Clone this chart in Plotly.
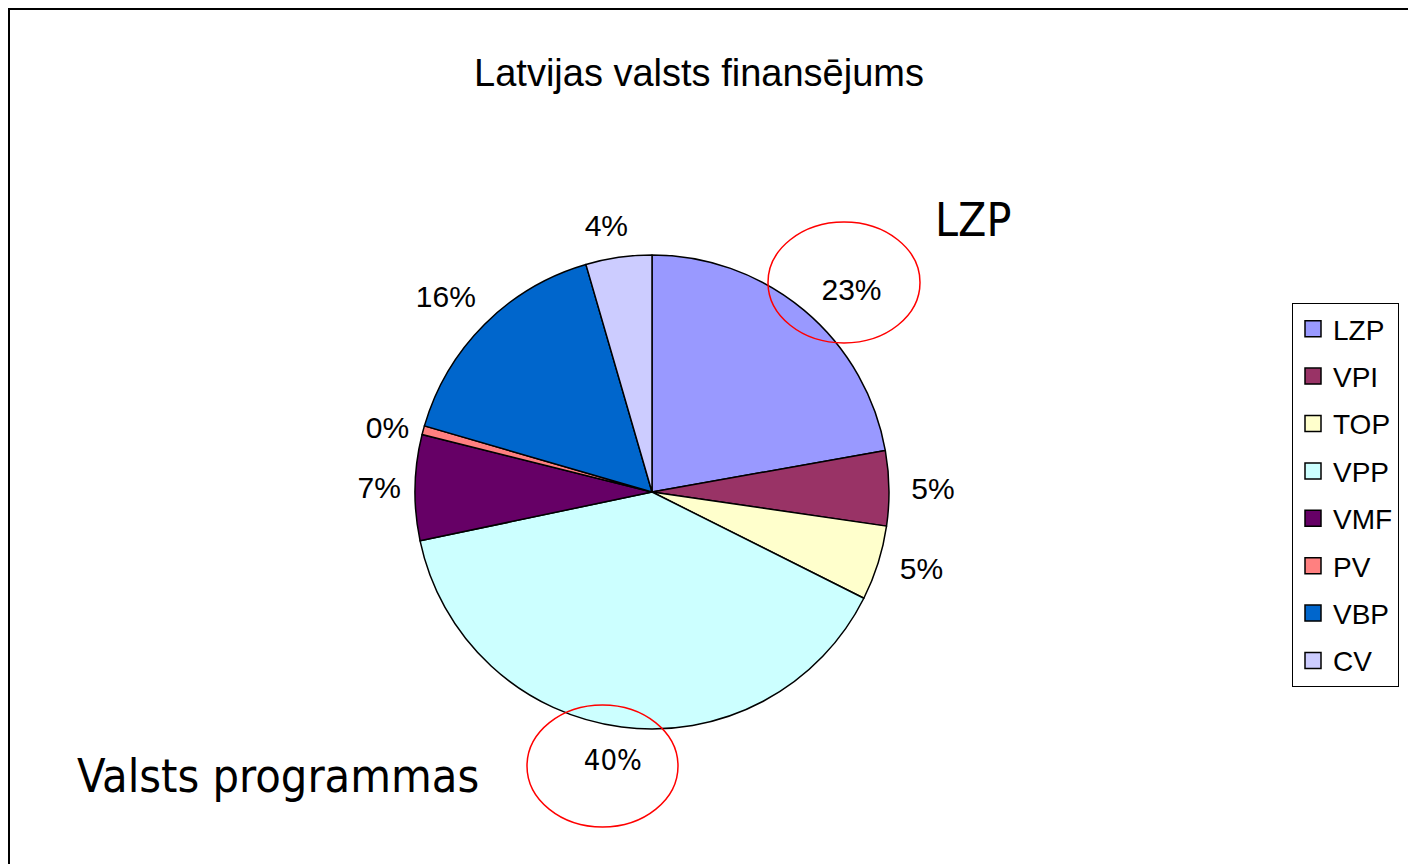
import plotly.graph_objects as go

categories = ["LZP", "VPI", "TOP", "VPP", "VMF", "PV", "VBP", "CV"]
values = [22.2, 5.1, 5.1, 39.3, 7.2, 0.6, 16.0, 4.5]
pct_labels = ["23%", "5%", "5%", "40%", "7%", "0%", "16%", "4%"]
colors = ["#9999FF", "#993366", "#FFFFCC", "#CCFFFF", "#660066", "#FF8080", "#0066CC", "#CCCCFF"]
title_text = "Latvijas valsts finansējums"
note_top = "LZP"
note_bottom = "Valsts programmas"

W, H = 1416, 864

label_fonts = ["Liberation Sans, Arial, sans-serif"] * len(categories)
label_fonts[categories.index("VPP")] = "DejaVu Sans Condensed, Tahoma, sans-serif"
label_sizes = [30] * len(categories)
label_sizes[categories.index("VPP")] = 29


def px_x(x):
    return x / W


def px_y(y):
    return 1 - y / H


cx, cy, r = 644, 484, 237      # pie centre / radius (px)

fig = go.Figure()


def add_label_pie(show, rotation, r_lab):
    """Transparent copy of the pie that only carries the outside percentage labels."""
    txt = [t if c in show else "" for c, t in zip(categories, pct_labels)]
    fig.add_trace(go.Pie(
        labels=categories, values=values, sort=False, direction="clockwise", rotation=rotation,
        marker=dict(colors=["rgba(0,0,0,0)"] * len(categories), line=dict(width=0)),
        text=txt, texttemplate="%{text}", textposition="outside",
        textfont=dict(family=label_fonts, size=label_sizes, color="black"),
        domain=dict(x=[px_x(cx - r_lab), px_x(cx + r_lab)], y=[px_y(cy + r_lab), px_y(cy - r_lab)]),
        showlegend=False, hoverinfo="skip",
    ))


add_label_pie(["LZP", "VPI", "TOP"], 0, 251)
add_label_pie(["VMF", "PV"], 0, 243)
add_label_pie(["VBP"], 3, 251)
add_label_pie(["VPP"], -7, 251)
add_label_pie(["CV"], 4.5, 251)

fig.add_trace(go.Pie(
    labels=categories, values=values, sort=False, direction="clockwise", rotation=0,
    marker=dict(colors=colors, line=dict(color="black", width=1.5)),
    textinfo="none",
    domain=dict(x=[px_x(cx - r), px_x(cx + r)], y=[px_y(cy + r), px_y(cy - r)]),
    showlegend=False, hoverinfo="label+percent",
))

# Legend entries built from the same categories/colors
for cat, col in zip(categories, colors):
    fig.add_trace(go.Scatter(
        x=[None], y=[None], mode="markers", name=cat, legendgroup=cat,
        marker=dict(symbol="square", size=16, color=col, line=dict(color="black", width=1.5)),
        showlegend=True,
    ))

fig.update_layout(
    width=W, height=H,
    margin=dict(l=0, r=0, t=0, b=0, pad=0),
    paper_bgcolor="white", plot_bgcolor="white",
    xaxis=dict(visible=False), yaxis=dict(visible=False),
    title=dict(text=title_text, x=px_x(691), xanchor="center", y=px_y(65), yanchor="middle",
               yref="container",
               font=dict(family="Liberation Sans, Arial, sans-serif", size=38, color="black")),
    legend=dict(
        x=px_x(1284), y=px_y(295), xanchor="left", yanchor="top",
        bgcolor="white", bordercolor="black", borderwidth=1,
        font=dict(family="Liberation Sans, Arial, sans-serif", size=28, color="black"),
        traceorder="grouped", tracegroupgap=8,
    ),
    annotations=[
        dict(text=note_top, x=px_x(965), y=px_y(212), xref="paper", yref="paper",
             showarrow=False, xanchor="center", yanchor="middle",
             font=dict(family="DejaVu Sans Condensed, sans-serif", size=46, color="black")),
        dict(text=note_bottom, x=px_x(270), y=px_y(768), xref="paper", yref="paper",
             showarrow=False, xanchor="center", yanchor="middle",
             font=dict(family="DejaVu Sans Condensed, Tahoma, sans-serif", size=46.5, color="black")),
    ],
    shapes=[
        dict(type="circle", xref="paper", yref="paper",
             x0=px_x(760), x1=px_x(912), y0=px_y(335), y1=px_y(214),
             line=dict(color="#FF0000", width=1.5)),
        dict(type="circle", xref="paper", yref="paper",
             x0=px_x(519), x1=px_x(670), y0=px_y(819), y1=px_y(697),
             line=dict(color="#FF0000", width=1.5)),
        dict(type="rect", xref="paper", yref="paper",
             x0=px_x(1), x1=1.02, y0=-0.02, y1=px_y(1),
             line=dict(color="black", width=2), layer="above"),
    ],
)

fig.write_html("out.html")
